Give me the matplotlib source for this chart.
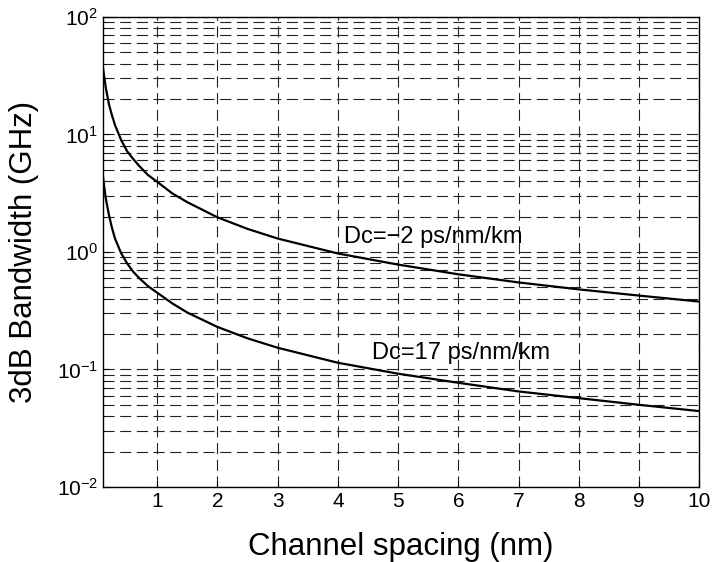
import numpy as np
import matplotlib
matplotlib.use("Agg")
import matplotlib.pyplot as plt
from matplotlib.ticker import LogLocator, NullFormatter, FixedLocator

plt.rcParams["font.family"] = ["Liberation Sans", "DejaVu Sans"]
plt.rcParams["mathtext.fontset"] = "custom"
plt.rcParams["mathtext.rm"] = "Liberation Sans"
plt.rcParams["mathtext.it"] = "Liberation Sans:italic"
plt.rcParams["mathtext.bf"] = "Liberation Sans:bold"

# channel spacing (nm) and 3dB bandwidth (GHz)
spacing = [0.1, 0.12, 0.15, 0.2, 0.25, 0.3, 0.4, 0.5, 0.6, 0.7, 0.85, 1, 1.25,
           1.5, 2, 2.5, 3, 4, 5, 6, 7, 8, 9, 10]
bw_dc_m2 = [37, 31, 24.5, 18, 14.5, 12, 9.0, 7.2, 6.2, 5.4, 4.5, 3.95, 3.15,
            2.65, 1.97, 1.57, 1.30, 0.97, 0.78, 0.645, 0.55, 0.48, 0.425, 0.378]
bw_dc_17 = [4.4, 3.6, 2.8, 2.05, 1.6, 1.3, 0.98, 0.8, 0.68, 0.6, 0.51,
            0.45, 0.365, 0.305, 0.23, 0.184, 0.153, 0.114, 0.092, 0.077, 0.065,
            0.057, 0.050, 0.0442]
xticks = [1, 2, 3, 4, 5, 6, 7, 8, 9, 10]

fig = plt.figure(figsize=(7.15, 5.62), dpi=100)
ax = fig.add_axes([0.144, 0.1335, 0.834, 0.8365])

ax.semilogy(spacing, bw_dc_m2, color="black", lw=1.6)
ax.semilogy(spacing, bw_dc_17, color="black", lw=1.6)

ax.set_xlim(0.1, 10)
ax.set_ylim(1e-2, 1e2)
ax.xaxis.set_major_locator(FixedLocator(xticks))
ax.yaxis.set_major_locator(LogLocator(base=10, numticks=10))
ax.yaxis.set_minor_locator(LogLocator(base=10, subs=np.arange(2, 10), numticks=20))
ax.yaxis.set_minor_formatter(NullFormatter())

gridstyle = dict(color="#222222", lw=0.8, ls=(0, (10, 5)))
ax.grid(True, which="major", axis="both", **gridstyle)
ax.grid(True, which="minor", axis="y", **gridstyle)

ax.tick_params(which="both", direction="in", labelsize=15, length=4)
ax.tick_params(which="minor", length=2)

ax.text(4.1, 1.35, "Dc=\u22122 ps/nm/km", fontsize=17, va="center", ha="left")
ax.text(4.56, 0.138, "Dc=17 ps/nm/km", fontsize=17, va="center", ha="left")

ax.set_xlabel("Channel spacing (nm)", fontsize=22.5, labelpad=15)
ax.set_ylabel("3dB Bandwidth (GHz)", fontsize=22.5, labelpad=13)

for s in ax.spines.values():
    s.set_linewidth(1)

fig.savefig("out.png", dpi=100)
